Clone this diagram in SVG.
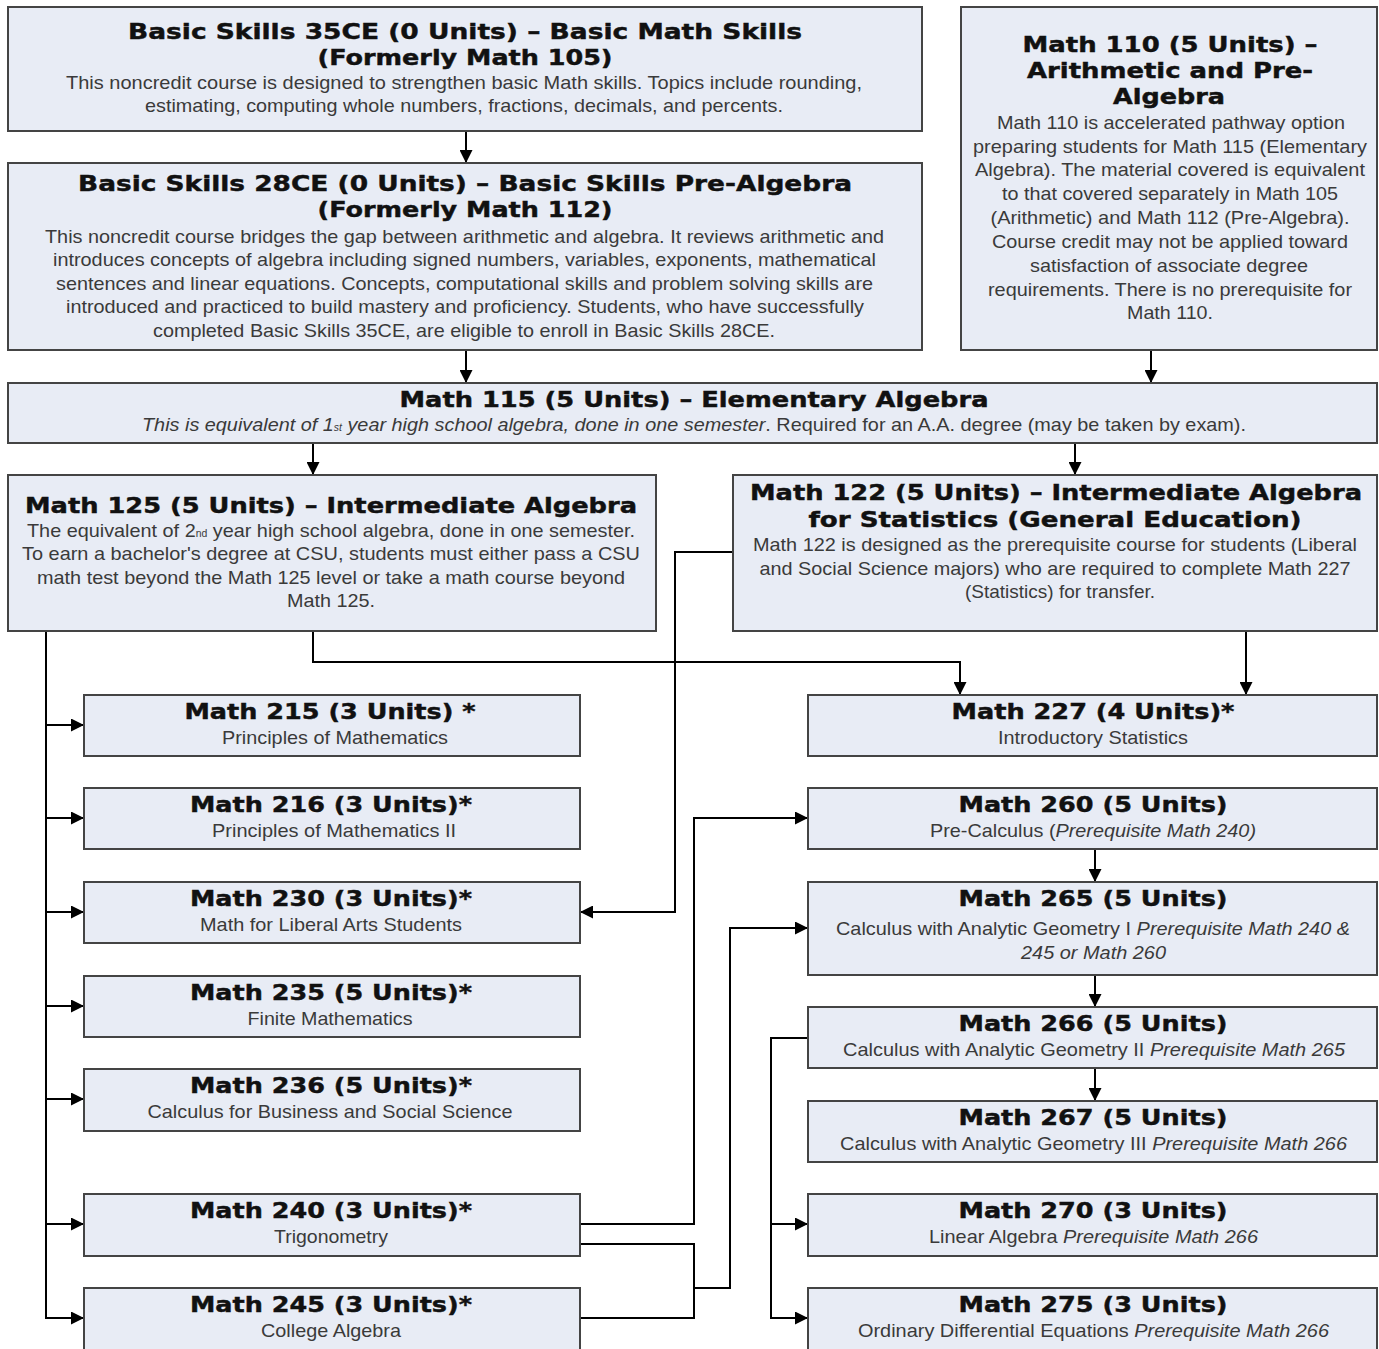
<svg xmlns="http://www.w3.org/2000/svg" width="1379" height="1349" viewBox="0 0 1379 1349">
<defs>
<marker id="ah" viewBox="0 0 12 12" refX="12" refY="6" markerWidth="13" markerHeight="13" markerUnits="userSpaceOnUse" orient="auto">
<path d="M0,0 L12,6 L0,12 z" fill="#000"/>
</marker>
<style>
.box{fill:#e8ecf5;stroke:#444;stroke-width:2}
.t{font-family:"DejaVu Sans","Liberation Sans",sans-serif;font-weight:bold;font-size:22px;fill:#111;stroke:#111;stroke-width:0.45;text-anchor:middle}
.b{font-family:"Liberation Sans",Arial,sans-serif;font-size:19px;fill:#3a3a3a;text-anchor:middle}
.i{font-style:italic}
.sup{font-size:10px}
.c{fill:none;stroke:#000;stroke-width:2}
.ca{fill:none;stroke:#000;stroke-width:2;marker-end:url(#ah)}
</style>
</defs>
<rect width="1379" height="1349" fill="#fff"/>

<g id="connectors">
<path class="ca" d="M466,131 V163"/>
<path class="ca" d="M466,350 V383"/>
<path class="ca" d="M1151,350 V383"/>
<path class="ca" d="M313,443 V475"/>
<path class="ca" d="M1075,443 V475"/>
<path class="ca" d="M46,631 V1318 H84"/>
<path class="ca" d="M46,725 H84"/>
<path class="ca" d="M46,818 H84"/>
<path class="ca" d="M46,912 H84"/>
<path class="ca" d="M46,1006 H84"/>
<path class="ca" d="M46,1099 H84"/>
<path class="ca" d="M46,1224 H84"/>
<path class="ca" d="M313,631 V662 H960 V695"/>
<path class="ca" d="M1246,631 V695"/>
<path class="ca" d="M733,552 H675 V912 H580"/>
<path class="ca" d="M580,1224 H694 V818 H808"/>
<path class="c" d="M580,1244 H694 V1318 H580"/>
<path class="ca" d="M694,1288 H730 V928 H808"/>
<path class="ca" d="M1095,849 V882"/>
<path class="ca" d="M1095,975 V1007"/>
<path class="ca" d="M1095,1068 V1101"/>
<path class="ca" d="M808,1038 H771 V1318 H808"/>
<path class="ca" d="M771,1224 H808"/>
</g>

<g id="bs35">
<rect class="box" x="8" y="7" width="914" height="124"/>
<text class="t" x="465" y="39" textLength="674" lengthAdjust="spacingAndGlyphs">Basic Skills 35CE (0 Units) – Basic Math Skills</text>
<text class="t" x="465" y="65" textLength="295" lengthAdjust="spacingAndGlyphs">(Formerly Math 105)</text>
<text class="b" x="464" y="89" textLength="796" lengthAdjust="spacingAndGlyphs">This noncredit course is designed to strengthen basic Math skills. Topics include  rounding,</text>
<text class="b" x="464" y="112" textLength="638" lengthAdjust="spacingAndGlyphs">estimating, computing whole numbers, fractions, decimals, and percents.</text>
</g>

<g id="bs28">
<rect class="box" x="8" y="163" width="914" height="187"/>
<text class="t" x="465" y="191" textLength="774" lengthAdjust="spacingAndGlyphs">Basic Skills 28CE (0 Units) – Basic Skills Pre-Algebra</text>
<text class="t" x="465" y="217" textLength="295" lengthAdjust="spacingAndGlyphs">(Formerly Math 112)</text>
<text class="b" x="464.5" y="243" textLength="839" lengthAdjust="spacingAndGlyphs">This noncredit course bridges the gap between arithmetic and algebra. It reviews arithmetic and</text>
<text class="b" x="464.5" y="266" textLength="823" lengthAdjust="spacingAndGlyphs">introduces concepts of algebra including signed numbers, variables, exponents, mathematical</text>
<text class="b" x="464.5" y="290" textLength="817" lengthAdjust="spacingAndGlyphs">sentences and linear equations. Concepts, computational skills and problem solving skills are</text>
<text class="b" x="465" y="313" textLength="798" lengthAdjust="spacingAndGlyphs">introduced and practiced to build mastery and proficiency. Students, who have successfully</text>
<text class="b" x="464" y="337" textLength="622" lengthAdjust="spacingAndGlyphs">completed Basic Skills 35CE, are eligible to enroll in Basic Skills 28CE.</text>
</g>

<g id="m110">
<rect class="box" x="961" y="7" width="416" height="343"/>
<text class="t" x="1170" y="52" textLength="295" lengthAdjust="spacingAndGlyphs">Math 110 (5 Units) –</text>
<text class="t" x="1170" y="78" textLength="286" lengthAdjust="spacingAndGlyphs">Arithmetic and Pre-</text>
<text class="t" x="1169" y="104" textLength="112" lengthAdjust="spacingAndGlyphs">Algebra</text>
<text class="b" x="1171" y="129" textLength="348" lengthAdjust="spacingAndGlyphs">Math 110 is accelerated pathway option</text>
<text class="b" x="1170" y="153" textLength="394" lengthAdjust="spacingAndGlyphs">preparing students for Math 115 (Elementary</text>
<text class="b" x="1170" y="176" textLength="390" lengthAdjust="spacingAndGlyphs">Algebra). The material covered is equivalent</text>
<text class="b" x="1170" y="200" textLength="336" lengthAdjust="spacingAndGlyphs">to that covered separately in Math 105</text>
<text class="b" x="1170" y="224" textLength="359" lengthAdjust="spacingAndGlyphs">(Arithmetic) and Math 112 (Pre-Algebra).</text>
<text class="b" x="1170" y="248" textLength="356" lengthAdjust="spacingAndGlyphs">Course credit may not be applied toward</text>
<text class="b" x="1169" y="272" textLength="278" lengthAdjust="spacingAndGlyphs">satisfaction of associate degree</text>
<text class="b" x="1170" y="296" textLength="364" lengthAdjust="spacingAndGlyphs">requirements. There is no prerequisite for</text>
<text class="b" x="1170" y="319" textLength="86" lengthAdjust="spacingAndGlyphs">Math 110.</text>
</g>

<g id="m115">
<rect class="box" x="8" y="383" width="1369" height="60"/>
<text class="t" x="694" y="407" textLength="589" lengthAdjust="spacingAndGlyphs">Math 115 (5 Units) – Elementary Algebra</text>
<text class="b" x="694" y="431" textLength="1104" lengthAdjust="spacingAndGlyphs"><tspan class="i">This is equivalent of 1</tspan><tspan class="i sup">st</tspan><tspan class="i"> year high school algebra, done in one semester</tspan>. Required for an A.A. degree (may be taken by exam).</text>
</g>

<g id="m125">
<rect class="box" x="8" y="475" width="648" height="156"/>
<text class="t" x="331" y="513" textLength="612" lengthAdjust="spacingAndGlyphs">Math 125 (5 Units) – Intermediate Algebra</text>
<text class="b" x="331" y="537" textLength="608" lengthAdjust="spacingAndGlyphs">The equivalent of 2<tspan class="sup">nd</tspan> year high school algebra, done in one semester.</text>
<text class="b" x="331" y="560" textLength="618" lengthAdjust="spacingAndGlyphs">To earn a bachelor's degree at CSU, students must either pass a CSU</text>
<text class="b" x="331" y="584" textLength="588" lengthAdjust="spacingAndGlyphs">math test beyond the Math 125 level or take a math course beyond</text>
<text class="b" x="331" y="607" textLength="88" lengthAdjust="spacingAndGlyphs">Math 125.</text>
</g>

<g id="m122">
<rect class="box" x="733" y="475" width="644" height="156"/>
<text class="t" x="1056" y="500" textLength="612" lengthAdjust="spacingAndGlyphs">Math 122 (5 Units) – Intermediate Algebra</text>
<text class="t" x="1055" y="527" textLength="493" lengthAdjust="spacingAndGlyphs">for Statistics (General Education)</text>
<text class="b" x="1055" y="551" textLength="604" lengthAdjust="spacingAndGlyphs">Math 122 is designed as the prerequisite course for students (Liberal</text>
<text class="b" x="1055" y="575" textLength="591" lengthAdjust="spacingAndGlyphs">and Social Science majors) who are required to complete Math 227</text>
<text class="b" x="1060" y="598" textLength="190" lengthAdjust="spacingAndGlyphs">(Statistics) for transfer.</text>
</g>

<g id="m215">
<rect class="box" x="84" y="695" width="496" height="61"/>
<text class="t" x="330" y="719" textLength="291" lengthAdjust="spacingAndGlyphs">Math 215 (3 Units) *</text>
<text class="b" x="335" y="744" textLength="226" lengthAdjust="spacingAndGlyphs">Principles of Mathematics</text>
</g>
<g id="m216">
<rect class="box" x="84" y="788" width="496" height="61"/>
<text class="t" x="331" y="812" textLength="282" lengthAdjust="spacingAndGlyphs">Math 216 (3 Units)*</text>
<text class="b" x="334" y="837" textLength="244" lengthAdjust="spacingAndGlyphs">Principles of Mathematics II</text>
</g>
<g id="m230">
<rect class="box" x="84" y="882" width="496" height="61"/>
<text class="t" x="331" y="906" textLength="282" lengthAdjust="spacingAndGlyphs">Math 230 (3 Units)*</text>
<text class="b" x="331" y="931" textLength="262" lengthAdjust="spacingAndGlyphs">Math for Liberal Arts Students</text>
</g>
<g id="m235">
<rect class="box" x="84" y="976" width="496" height="61"/>
<text class="t" x="331" y="1000" textLength="282" lengthAdjust="spacingAndGlyphs">Math 235 (5 Units)*</text>
<text class="b" x="330" y="1025" textLength="165" lengthAdjust="spacingAndGlyphs">Finite Mathematics</text>
</g>
<g id="m236">
<rect class="box" x="84" y="1069" width="496" height="62"/>
<text class="t" x="331" y="1093" textLength="282" lengthAdjust="spacingAndGlyphs">Math 236 (5 Units)*</text>
<text class="b" x="330" y="1118" textLength="365" lengthAdjust="spacingAndGlyphs">Calculus for Business and Social Science</text>
</g>
<g id="m240">
<rect class="box" x="84" y="1194" width="496" height="62"/>
<text class="t" x="331" y="1218" textLength="282" lengthAdjust="spacingAndGlyphs">Math 240 (3 Units)*</text>
<text class="b" x="331" y="1243" textLength="114" lengthAdjust="spacingAndGlyphs">Trigonometry</text>
</g>
<g id="m245">
<rect class="box" x="84" y="1288" width="496" height="70"/>
<text class="t" x="331" y="1312" textLength="282" lengthAdjust="spacingAndGlyphs">Math 245 (3 Units)*</text>
<text class="b" x="331" y="1337" textLength="140" lengthAdjust="spacingAndGlyphs">College Algebra</text>
</g>

<g id="m227">
<rect class="box" x="808" y="695" width="569" height="61"/>
<text class="t" x="1093" y="719" textLength="283" lengthAdjust="spacingAndGlyphs">Math 227 (4 Units)*</text>
<text class="b" x="1093" y="744" textLength="190" lengthAdjust="spacingAndGlyphs">Introductory Statistics</text>
</g>
<g id="m260">
<rect class="box" x="808" y="788" width="569" height="61"/>
<text class="t" x="1093" y="812" textLength="269" lengthAdjust="spacingAndGlyphs">Math 260 (5 Units)</text>
<text class="b" x="1093" y="837" textLength="326" lengthAdjust="spacingAndGlyphs">Pre-Calculus (<tspan class="i">Prerequisite Math 240)</tspan></text>
</g>
<g id="m265">
<rect class="box" x="808" y="882" width="569" height="93"/>
<text class="t" x="1093" y="906" textLength="269" lengthAdjust="spacingAndGlyphs">Math 265 (5 Units)</text>
<text class="b" x="1093" y="935" textLength="514" lengthAdjust="spacingAndGlyphs">Calculus with Analytic Geometry I <tspan class="i">Prerequisite Math 240 &amp;</tspan></text>
<text class="b i" x="1093.5" y="959" textLength="145" lengthAdjust="spacingAndGlyphs">245 or Math 260</text>
</g>
<g id="m266">
<rect class="box" x="808" y="1007" width="569" height="61"/>
<text class="t" x="1093" y="1031" textLength="269" lengthAdjust="spacingAndGlyphs">Math 266 (5 Units)</text>
<text class="b" x="1094" y="1056" textLength="502" lengthAdjust="spacingAndGlyphs">Calculus with Analytic Geometry II <tspan class="i">Prerequisite Math 265</tspan></text>
</g>
<g id="m267">
<rect class="box" x="808" y="1101" width="569" height="61"/>
<text class="t" x="1093" y="1125" textLength="269" lengthAdjust="spacingAndGlyphs">Math 267 (5 Units)</text>
<text class="b" x="1093.5" y="1150" textLength="507" lengthAdjust="spacingAndGlyphs">Calculus with Analytic Geometry III <tspan class="i">Prerequisite Math 266</tspan></text>
</g>
<g id="m270">
<rect class="box" x="808" y="1194" width="569" height="62"/>
<text class="t" x="1093" y="1218" textLength="269" lengthAdjust="spacingAndGlyphs">Math 270 (3 Units)</text>
<text class="b" x="1093.5" y="1243" textLength="329" lengthAdjust="spacingAndGlyphs">Linear Algebra <tspan class="i">Prerequisite Math 266</tspan></text>
</g>
<g id="m275">
<rect class="box" x="808" y="1288" width="569" height="70"/>
<text class="t" x="1093" y="1312" textLength="269" lengthAdjust="spacingAndGlyphs">Math 275 (3 Units)</text>
<text class="b" x="1093.5" y="1337" textLength="471" lengthAdjust="spacingAndGlyphs">Ordinary Differential Equations <tspan class="i">Prerequisite Math 266</tspan></text>
</g>
</svg>
